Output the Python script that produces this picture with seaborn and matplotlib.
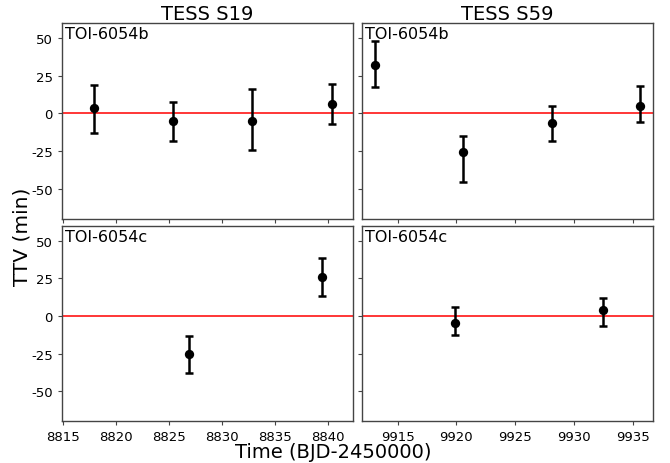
import matplotlib
matplotlib.use("Agg")
import matplotlib.pyplot as plt
import seaborn as sns
import numpy as np
import pandas as pd

# TOI-6054b transit timing variations
s19_b_time = [8817.94, 8825.44, 8832.85, 8840.36]
s19_b_ttv = [3.5, -4.9, -5.3, 6.0]
s19_b_err_lo = [16.2, 13.1, 18.9, 12.9]
s19_b_err_hi = [15.3, 12.6, 21.9, 13.5]

s59_b_time = [9913.1, 9920.6, 9928.1, 9935.65]
s59_b_ttv = [32.1, -25.7, -6.6, 5.1]
s59_b_err_lo = [14.8, 20.2, 11.6, 10.9]
s59_b_err_hi = [15.8, 10.8, 11.9, 13.5]

# TOI-6054c transit timing variations
s19_c_time = [8826.88, 8839.42]
s19_c_ttv = [-25.5, 26.0]
s19_c_err_lo = [12.5, 12.9]
s19_c_err_hi = [12.4, 12.5]

s59_c_time = [9919.9, 9932.5]
s59_c_ttv = [-4.4, 4.0]
s59_c_err_lo = [8.3, 10.7]
s59_c_err_hi = [10.7, 8.0]

sector_titles = ["TESS S19", "TESS S59"]
planet_labels = ["TOI-6054b", "TOI-6054c"]
y_ticks = [-50, -25, 0, 25, 50]
s19_ticks = [8815, 8820, 8825, 8830, 8835, 8840]
s59_ticks = [9915, 9920, 9925, 9930, 9935]

sns.set_style("ticks")
plt.rcParams["font.family"] = ["DejaVu Sans"]
plt.rcParams["text.color"] = "black"
plt.rcParams["axes.labelcolor"] = "black"
plt.rcParams["axes.titlecolor"] = "black"
plt.rcParams["axes.edgecolor"] = "#444444"
plt.rcParams["axes.linewidth"] = 1.0
plt.rcParams["xtick.color"] = "#444444"
plt.rcParams["ytick.color"] = "#444444"
plt.rcParams["xtick.labelcolor"] = "black"
plt.rcParams["ytick.labelcolor"] = "black"

fig, axes = plt.subplots(
    2, 2, figsize=(6.7, 4.64), dpi=100, sharex="col", sharey=True,
    gridspec_kw=dict(left=0.0925, right=0.975, bottom=0.09, top=0.9476,
                     wspace=0.03, hspace=0.037),
)

panels = [
    (0, 0, s19_b_time, s19_b_ttv, s19_b_err_lo, s19_b_err_hi),
    (0, 1, s59_b_time, s59_b_ttv, s59_b_err_lo, s59_b_err_hi),
    (1, 0, s19_c_time, s19_c_ttv, s19_c_err_lo, s19_c_err_hi),
    (1, 1, s59_c_time, s59_c_ttv, s59_c_err_lo, s59_c_err_hi),
]

for r, c, t, ttv, lo, hi in panels:
    ax = axes[r, c]
    ax.axhline(0, color="red", lw=1.1, zorder=1)
    ax.errorbar(t, ttv, yerr=[lo, hi], fmt="none", ecolor="black",
                elinewidth=1.8, capsize=3, capthick=1.8, zorder=2)
    df = pd.DataFrame({"time": t, "ttv": ttv})
    sns.scatterplot(data=df, x="time", y="ttv", ax=ax, color="black",
                    s=45, edgecolor="black", linewidth=0, zorder=3)
    ax.set_xlabel("")
    ax.set_ylabel("")
    ax.text(0.012, 0.985, planet_labels[r], transform=ax.transAxes,
            ha="left", va="top", fontsize=11.5, color="black")
    ax.tick_params(length=3, width=0.8, labelsize=9.5)

axes[0, 0].set_ylim(-70, 60)
axes[0, 0].set_yticks(y_ticks)
axes[0, 0].set_yticklabels([str(v) for v in y_ticks])
axes[1, 0].set_xlim(8814.95, 8842.35)
axes[1, 0].set_xticks(s19_ticks)
axes[1, 1].set_xlim(9911.97, 9936.75)
axes[1, 1].set_xticks(s59_ticks)

for c in range(2):
    axes[0, c].set_title(sector_titles[c], fontsize=14, pad=2)

fig.text(0.033, 0.49, "TTV (min)", rotation=90, ha="center", va="center",
         fontsize=14.5)
fig.text(0.497, 0.025, "Time (BJD-2450000)", ha="center", va="center",
         fontsize=14)

fig.savefig("out.png", dpi=100)
